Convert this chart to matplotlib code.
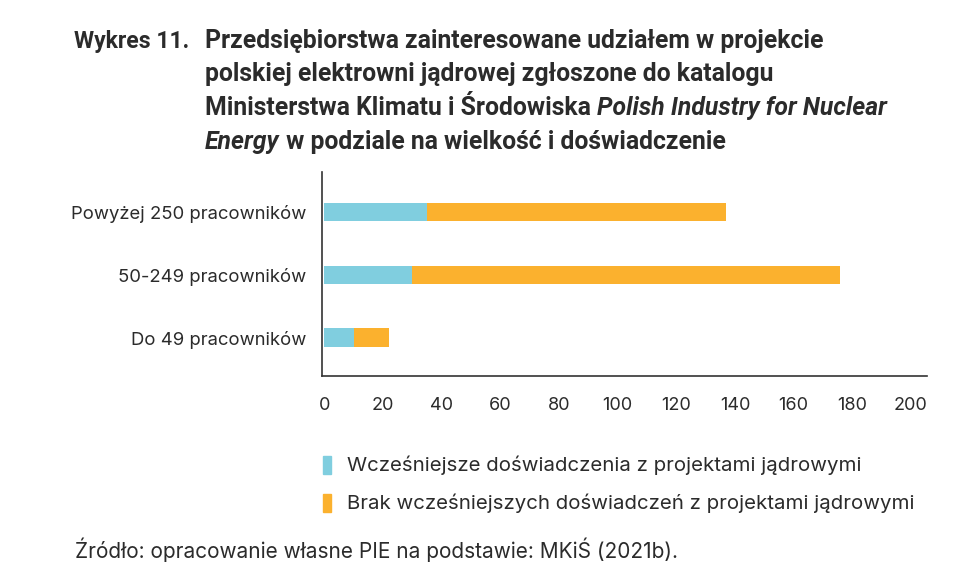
import matplotlib
matplotlib.use('Agg')
import matplotlib.pyplot as plt
from matplotlib.patches import Rectangle

# data
categories = ["Do 49 pracowników", "50-249 pracowników", "Powyżej 250 pracowników"]
with_exp = [10, 30, 35]
without_exp = [12, 146, 102]
series_names = ["Wcześniejsze doświadczenia z projektami jądrowymi",
                "Brak wcześniejszych doświadczeń z projektami jądrowymi"]
xticks = [0, 20, 40, 60, 80, 100, 120, 140, 160, 180, 200]

CYAN = "#80CEDF"
ORANGE = "#FBB12E"
TEXT = "#2b2b2b"
BODY_FONT = "Inter"
TITLE_FONT = "Roboto"

W, H = 977, 585
fig = plt.figure(figsize=(W / 100, H / 100), dpi=100)
ax = fig.add_axes([322 / W, 1 - 376 / H, 605 / W, 204 / H])

y = list(range(len(categories)))
ax.barh(y, with_exp, height=0.29, color=CYAN, linewidth=0)
ax.barh(y, without_exp, left=with_exp, height=0.29, color=ORANGE, linewidth=0)

ax.set_xlim(-0.8, 205.5)
ax.set_ylim(-0.61, 2.63)
ax.set_xticks(xticks)
ax.set_xticklabels([str(t) for t in xticks], fontsize=13, family=BODY_FONT, color=TEXT)
ax.set_yticks(y)
ax.set_yticklabels(categories, fontsize=13.3, family=BODY_FONT, color=TEXT)
ax.tick_params(axis='x', length=0, pad=15)
ax.tick_params(axis='y', length=0, pad=11)
for s in ['top', 'right']:
    ax.spines[s].set_visible(False)
for s in ['left', 'bottom']:
    ax.spines[s].set_color("#333333")
    ax.spines[s].set_linewidth(1.2)

# title with italic part
renderer = fig.canvas.get_renderer()
tkw = dict(fontweight='bold', family=TITLE_FONT, color=TEXT, va='baseline')
fig.text(74 / W, 1 - 48 / H, "Wykres 11.", fontsize=16.6, **tkw)
lines = [
    [("Przedsiębiorstwa zainteresowane udziałem w projekcie", 'normal')],
    [("polskiej elektrowni jądrowej zgłoszone do katalogu", 'normal')],
    [("Ministerstwa Klimatu i Środowiska ", 'normal'),
     ("Polish Industry for Nuclear", 'italic')],
    [("Energy", 'italic'), (" w podziale na wielkość i doświadczenie", 'normal')],
]
for i, parts in enumerate(lines):
    x = 205
    base = 48 + i * 33.5
    for txt, style in parts:
        t = fig.text(x / W, 1 - base / H, txt, style=style, fontsize=17.8, **tkw)
        bb = t.get_window_extent(renderer=renderer)
        x += bb.width

# legend
for i, (name, col) in enumerate(zip(series_names, [CYAN, ORANGE])):
    yc = 465 + i * 38
    fig.patches.append(Rectangle((323 / W, 1 - (yc + 9) / H), 8 / W, 18 / H,
                                 color=col, transform=fig.transFigure))
    fig.text(347 / W, 1 - yc / H, name, fontsize=14.7, family=BODY_FONT,
             color=TEXT, va='center')

fig.text(75 / W, 1 - 550 / H, "Źródło: opracowanie własne PIE na podstawie: MKiŚ (2021b).",
         fontsize=15, family=BODY_FONT, color=TEXT, va='center')

fig.savefig("out.png", dpi=100)
